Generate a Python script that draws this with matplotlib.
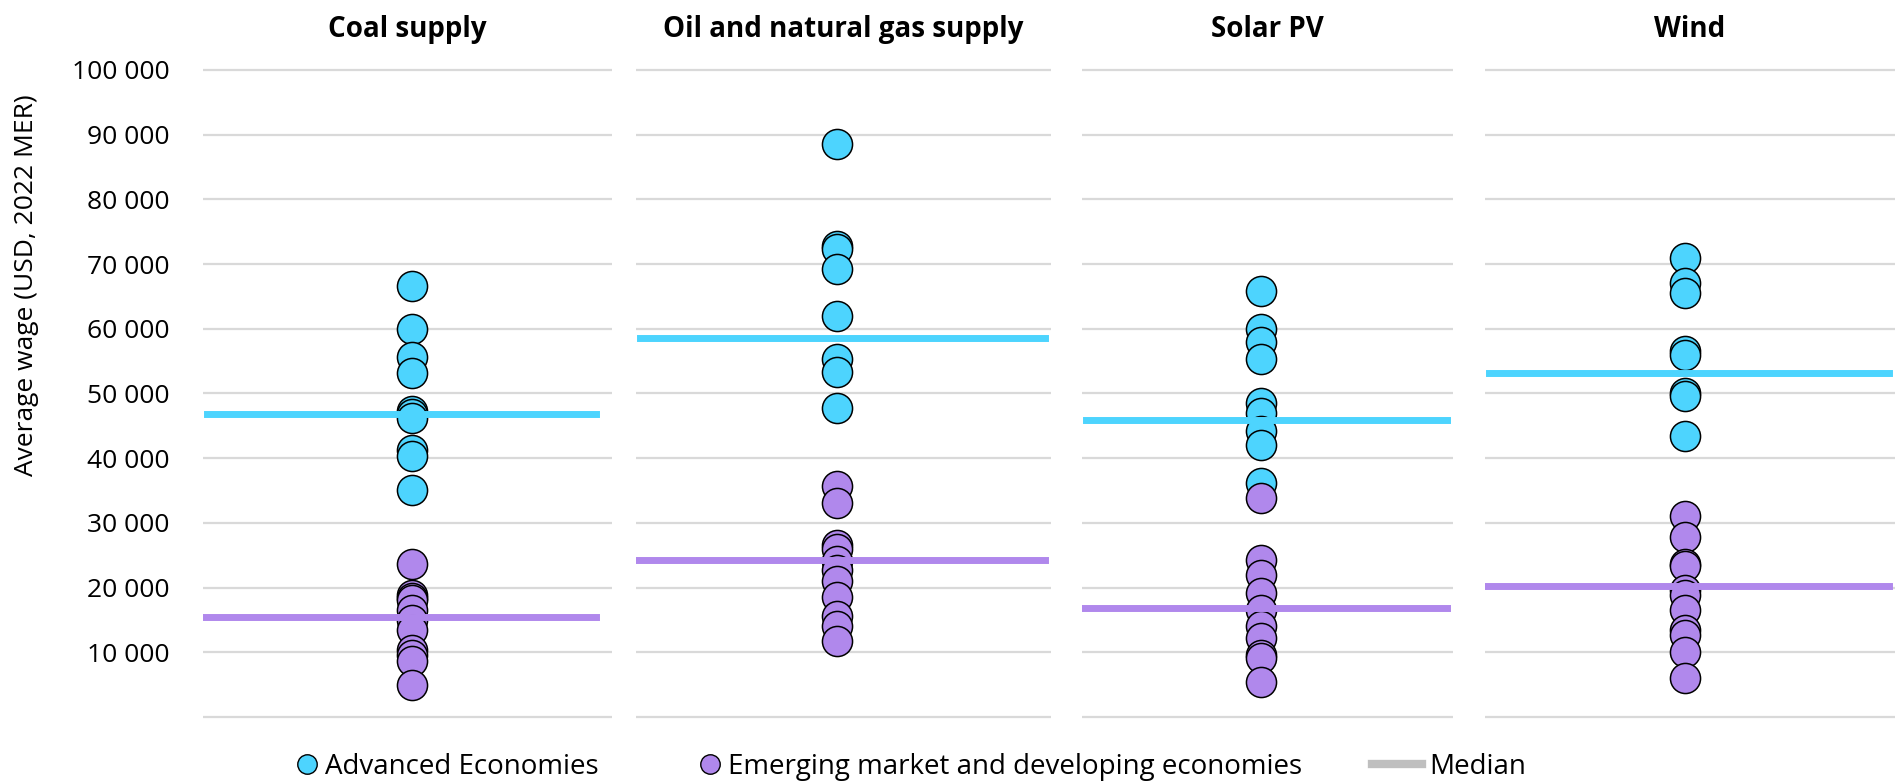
import numpy as np
import matplotlib.pyplot as plt
from matplotlib.lines import Line2D
from matplotlib.ticker import FuncFormatter

plt.rcParams['font.family'] = ['Open Sans', 'DejaVu Sans']

# panels
panels = ['Coal supply', 'Oil and natural gas supply', 'Solar PV', 'Wind']

# average wage per country (USD, 2022 MER)
coal_adv = [66600, 59900, 55600, 53200, 47300, 46800, 46200, 41200, 40400, 35100]
coal_emde = [23700, 18900, 18400, 18100, 16600, 15000, 13500, 10400, 9600, 8600, 5000]
oil_adv = [88500, 72800, 72300, 69300, 61900, 55300, 53300, 47700]
oil_emde = [35700, 33100, 26600, 25900, 24100, 22800, 21000, 18600, 15600, 14000, 11700]
solar_adv = [65800, 60000, 58000, 55300, 48500, 47000, 44200, 42100, 36200]
solar_emde = [33800, 24300, 22000, 19200, 16600, 14000, 12200, 9600, 9200, 5400]
wind_adv = [70900, 67100, 65600, 56500, 56000, 50100, 49600, 43400]
wind_emde = [31000, 27800, 23600, 23300, 19700, 18900, 16600, 13500, 12700, 10100, 6000]

adv_values = [coal_adv, oil_adv, solar_adv, wind_adv]
emde_values = [coal_emde, oil_emde, solar_emde, wind_emde]

# medians shown as horizontal lines
adv_median = [46900, 58500, 45900, 53200]
emde_median = [15500, 24300, 16900, 20200]

yticks = [10000, 20000, 30000, 40000, 50000, 60000, 70000, 80000, 90000, 100000]

BLUE = '#4DD4FE'
PURPLE = '#B088EC'
GRID = '#D9D9D9'

W, H = 1899, 784
fig = plt.figure(figsize=(W / 100, H / 100), dpi=100)

# axes boxes in pixels: left, right
boxes = [(203, 612), (636, 1051), (1082, 1453), (1485, 1895)]
dot_x = [0.512, 0.484, 0.482, 0.488]
line_end = [0.96, 0.985, 0.985, 0.985]
bottom = 1 - 723.5 / H
height = (723.5 - 63.5) / H

fmt = FuncFormatter(lambda v, p: f'{int(v):,}'.replace(',', ' '))

for i, (l, r) in enumerate(boxes):
    ax = fig.add_axes([l / W, bottom, (r - l) / W, height])
    ax.set_xlim(0, 1)
    ax.set_ylim(-1000, 101000)
    ax.set_yticks([0] + yticks)
    ax.set_yticklabels([''] + [fmt(v, None) for v in yticks])
    ax.grid(axis='y', color=GRID, linewidth=1.6, zorder=0)
    ax.set_axisbelow(True)
    for s in ax.spines.values():
        s.set_visible(False)
    ax.set_xticks([])
    ax.tick_params(axis='y', length=0, pad=24, labelsize=19)
    if i > 0:
        ax.tick_params(labelleft=False)

    ax.scatter(np.full(len(adv_values[i]), dot_x[i]), adv_values[i], s=470,
               color=BLUE, edgecolor='black', linewidth=1.1, zorder=3)
    ax.scatter(np.full(len(emde_values[i]), dot_x[i]), emde_values[i], s=470,
               color=PURPLE, edgecolor='black', linewidth=1.1, zorder=4)
    ax.axhline(adv_median[i], xmin=0.01, xmax=line_end[i], color=BLUE, linewidth=5, zorder=5)
    ax.axhline(emde_median[i], xmin=0.0, xmax=line_end[i], color=PURPLE, linewidth=5, zorder=5)

    ax.text(0.5, 1.052, panels[i], transform=ax.transAxes,
            ha='center', va='center', fontsize=20, fontweight='bold')

fig.text(27 / W, 1 - 285 / H, 'Average wage (USD, 2022 MER)', rotation=90,
         ha='center', va='center', fontsize=19)

# legend: three entries placed like the original
leg_items = [
    (Line2D([], [], marker='o', linestyle='none', markersize=14,
            markerfacecolor=BLUE, markeredgecolor='black', markeredgewidth=1),
     'Advanced Economies', 297, 0.75),
    (Line2D([], [], marker='o', linestyle='none', markersize=14,
            markerfacecolor=PURPLE, markeredgecolor='black', markeredgewidth=1),
     'Emerging market and developing economies', 700, 0.75),
    (Line2D([], [], color='#BFBFBF', linewidth=6),
     'Median', 1372, 1.8),
]
for h, lab, x0, hl in leg_items:
    fig.legend([h], [lab], loc='center left', bbox_to_anchor=(x0 / W, 0.022),
               frameon=False, fontsize=20, handletextpad=0.25, handlelength=hl,
               borderpad=0, borderaxespad=0)

fig.savefig('out.png', dpi=100)
